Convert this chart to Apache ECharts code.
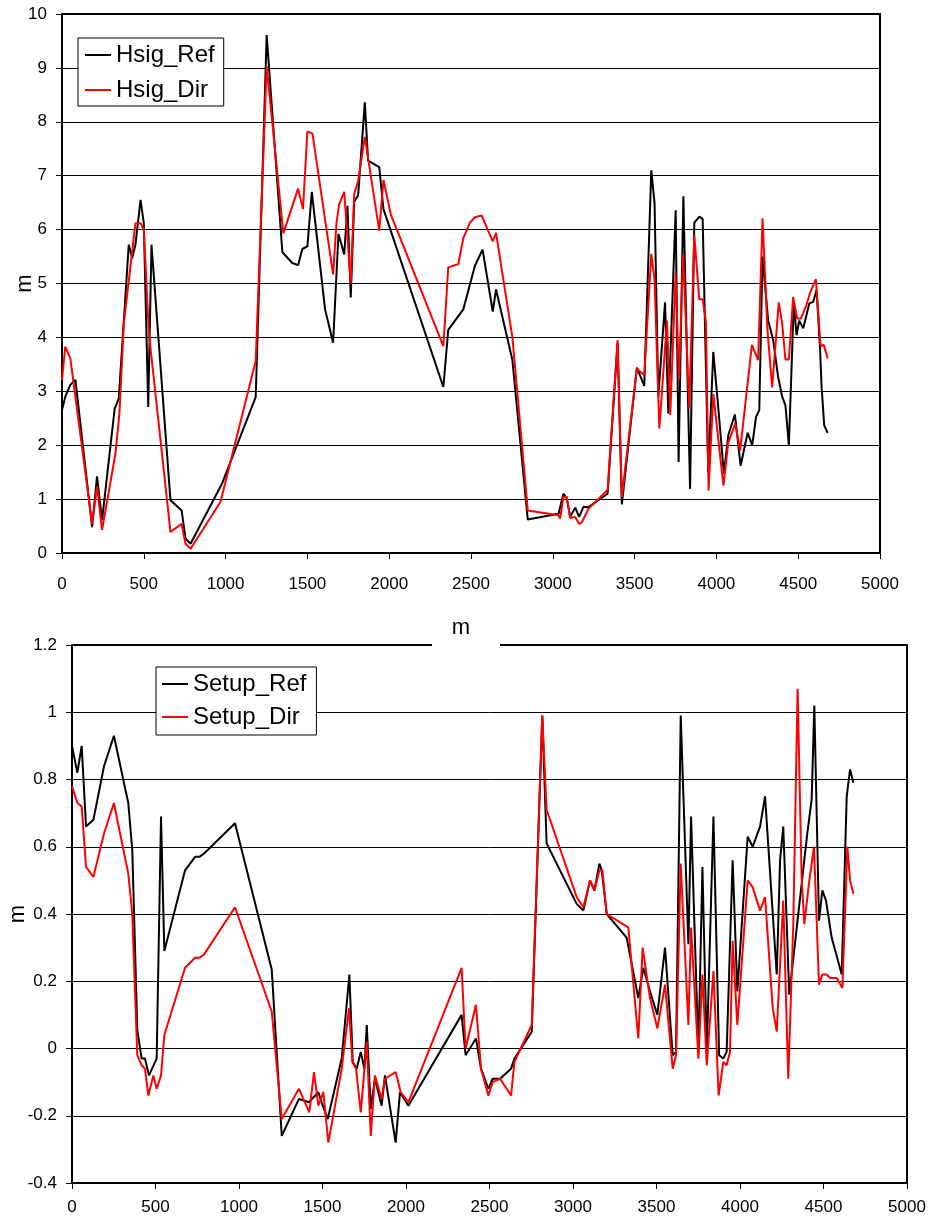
<!DOCTYPE html>
<html>
<head>
<meta charset="utf-8">
<script src="https://cdn.jsdelivr.net/npm/echarts@6/dist/echarts.min.js"></script>
<style>
  html, body { margin: 0; padding: 0; background: #fff; }
  #chart { width: 928px; height: 1224px; }
</style>
</head>
<body>
<div id="chart"></div>
<script>
// x ticks shared by both panels
var xTicks = [0, 500, 1000, 1500, 2000, 2500, 3000, 3500, 4000, 4500, 5000];

// top panel: significant wave height [distance, Hsig]
var hsigRef = [
  [0, 2.65], [20, 2.9], [51, 3.12], [82, 3.21], [184, 0.48], [214, 1.42], [245, 0.61], [322, 2.68],
  [347, 2.87], [408, 5.72], [429, 5.47], [449, 5.72], [480, 6.55], [500, 6.12], [527, 2.71], [547, 5.72],
  [663, 0.98], [731, 0.79], [755, 0.27], [786, 0.17], [980, 1.3], [1184, 2.89], [1251, 9.61], [1347, 5.58],
  [1408, 5.38], [1443, 5.34], [1469, 5.64], [1500, 5.69], [1527, 6.7], [1608, 4.52], [1657, 3.9], [1690, 5.92],
  [1725, 5.54], [1745, 6.44], [1765, 4.74], [1786, 6.52], [1810, 6.63], [1851, 8.36], [1871, 7.28], [1939, 7.16],
  [1965, 6.38], [2331, 3.08], [2361, 4.14], [2453, 4.52], [2524, 5.33], [2571, 5.63], [2633, 4.48], [2653, 4.89],
  [2753, 3.58], [2847, 0.62], [3035, 0.73], [3065, 1.1], [3086, 1.01], [3106, 0.67], [3137, 0.84], [3161, 0.67],
  [3188, 0.86], [3218, 0.85], [3335, 1.1], [3396, 3.9], [3422, 0.9], [3514, 3.44], [3559, 3.1], [3602, 7.1],
  [3622, 6.49], [3645, 2.9], [3686, 4.65], [3706, 2.59], [3751, 6.36], [3769, 1.69], [3798, 6.62], [3839, 1.19],
  [3865, 6.13], [3896, 6.24], [3916, 6.2], [3950, 1.5], [3981, 3.73], [4011, 2.71], [4046, 1.47], [4073, 2.19],
  [4113, 2.57], [4148, 1.62], [4191, 2.23], [4219, 2.0], [4242, 2.52], [4262, 2.65], [4282, 5.5], [4316, 4.32],
  [4347, 3.95], [4377, 3.27], [4402, 2.9], [4422, 2.74], [4443, 2.0], [4473, 4.63], [4490, 4.04], [4506, 4.31],
  [4531, 4.17], [4568, 4.63], [4592, 4.66], [4612, 4.88], [4633, 3.83], [4643, 3.08], [4659, 2.37], [4680, 2.23]
];
var hsigDir = [
  [0, 3.21], [20, 3.83], [51, 3.61], [184, 0.54], [214, 1.23], [245, 0.43], [327, 1.85], [351, 2.59],
  [378, 4.26], [449, 6.12], [480, 6.12], [500, 6.0], [531, 4.08], [663, 0.39], [731, 0.54], [755, 0.17],
  [786, 0.08], [969, 0.95], [1184, 3.56], [1251, 9.03], [1353, 5.93], [1443, 6.76], [1473, 6.38], [1500, 7.82],
  [1531, 7.78], [1657, 5.17], [1678, 6.13], [1694, 6.47], [1725, 6.7], [1765, 5.0], [1786, 6.66], [1810, 6.9],
  [1851, 7.72], [1939, 5.98], [1965, 6.92], [2010, 6.28], [2331, 3.84], [2361, 5.3], [2422, 5.36], [2453, 5.84],
  [2494, 6.13], [2524, 6.23], [2565, 6.26], [2633, 5.78], [2653, 5.94], [2753, 4.0], [2847, 0.79], [3035, 0.7],
  [3045, 0.64], [3065, 1.05], [3086, 1.04], [3106, 0.65], [3137, 0.67], [3161, 0.54], [3178, 0.57], [3218, 0.82],
  [3335, 1.17], [3396, 3.95], [3422, 1.04], [3514, 3.42], [3559, 3.3], [3602, 5.55], [3622, 5.07], [3651, 2.31],
  [3698, 4.31], [3718, 2.56], [3751, 5.2], [3771, 3.21], [3797, 5.56], [3834, 2.68], [3865, 5.9], [3895, 4.71],
  [3916, 4.71], [3936, 4.29], [3952, 1.16], [3981, 2.95], [4043, 1.25], [4073, 2.05], [4115, 2.4], [4145, 1.9],
  [4217, 3.86], [4255, 3.58], [4282, 6.21], [4312, 4.14], [4341, 3.07], [4381, 4.65], [4402, 4.26], [4422, 3.59],
  [4443, 3.59], [4469, 4.75], [4494, 4.35], [4516, 4.35], [4547, 4.57], [4572, 4.82], [4608, 5.08], [4637, 3.84],
  [4657, 3.86], [4680, 3.61]
];

// bottom panel: wave setup [distance, setup]
var setupRef = [
  [0, 0.9], [32, 0.82], [58, 0.9], [84, 0.66], [128, 0.68], [192, 0.84], [251, 0.93], [337, 0.73],
  [361, 0.59], [391, 0.055], [417, -0.03], [437, -0.03], [461, -0.08], [507, -0.03], [533, 0.69], [553, 0.29],
  [677, 0.53], [737, 0.57], [763, 0.57], [791, 0.58], [976, 0.67], [1196, 0.235], [1256, -0.26], [1359, -0.15],
  [1419, -0.16], [1475, -0.13], [1495, -0.16], [1531, -0.21], [1615, -0.03], [1661, 0.22], [1681, -0.04], [1705, -0.06],
  [1729, -0.01], [1751, -0.06], [1765, 0.07], [1789, -0.18], [1814, -0.09], [1854, -0.17], [1874, -0.08], [1938, -0.28],
  [1964, -0.13], [2014, -0.17], [2333, 0.1], [2357, -0.02], [2419, 0.03], [2449, -0.06], [2493, -0.12], [2519, -0.09],
  [2563, -0.09], [2629, -0.06], [2649, -0.03], [2753, 0.05], [2816, 0.99], [2842, 0.61], [3022, 0.43], [3062, 0.41],
  [3102, 0.5], [3128, 0.47], [3158, 0.55], [3172, 0.53], [3202, 0.4], [3321, 0.33], [3391, 0.15], [3421, 0.24],
  [3461, 0.17], [3505, 0.1], [3551, 0.3], [3597, -0.02], [3617, -0.01], [3645, 0.99], [3691, 0.31], [3707, 0.69],
  [3751, -0.01], [3775, 0.54], [3801, -0.01], [3841, 0.69], [3875, -0.02], [3900, -0.03], [3920, -0.01], [3956, 0.56],
  [3984, 0.17], [4046, 0.63], [4076, 0.6], [4120, 0.66], [4150, 0.75], [4220, 0.22], [4240, 0.56], [4259, 0.66],
  [4295, 0.16], [4376, 0.52], [4403, 0.64], [4429, 0.74], [4445, 1.02], [4473, 0.38], [4493, 0.47], [4515, 0.44],
  [4549, 0.33], [4609, 0.22], [4639, 0.75], [4659, 0.83], [4679, 0.79]
];
var setupDir = [
  [0, 0.78], [32, 0.73], [58, 0.72], [84, 0.54], [128, 0.51], [192, 0.64], [251, 0.73], [337, 0.52],
  [361, 0.4], [391, -0.02], [417, -0.05], [437, -0.06], [457, -0.14], [487, -0.08], [507, -0.12], [533, -0.08],
  [553, 0.04], [677, 0.24], [737, 0.27], [763, 0.27], [791, 0.28], [976, 0.42], [1196, 0.11], [1256, -0.21],
  [1359, -0.12], [1421, -0.19], [1449, -0.07], [1475, -0.17], [1505, -0.13], [1535, -0.28], [1615, -0.06], [1659, 0.12],
  [1679, -0.04], [1701, -0.06], [1729, -0.19], [1765, 0.02], [1789, -0.26], [1814, -0.08], [1854, -0.15], [1874, -0.09],
  [1938, -0.07], [1968, -0.13], [2014, -0.16], [2333, 0.24], [2357, 0.0], [2419, 0.13], [2449, -0.06], [2493, -0.14],
  [2519, -0.1], [2563, -0.09], [2629, -0.14], [2649, -0.04], [2753, 0.07], [2816, 0.99], [2842, 0.71], [3022, 0.45],
  [3062, 0.42], [3102, 0.5], [3128, 0.47], [3158, 0.53], [3176, 0.53], [3202, 0.4], [3331, 0.36], [3391, 0.03],
  [3417, 0.3], [3461, 0.15], [3505, 0.06], [3551, 0.19], [3597, -0.06], [3617, -0.02], [3645, 0.55], [3691, 0.07],
  [3707, 0.36], [3751, -0.03], [3775, 0.22], [3801, -0.05], [3841, 0.23], [3872, -0.14], [3900, -0.04], [3920, -0.05],
  [3940, -0.01], [3956, 0.32], [3984, 0.07], [4046, 0.5], [4076, 0.48], [4120, 0.41], [4150, 0.45], [4196, 0.12],
  [4220, 0.05], [4259, 0.44], [4289, -0.09], [4319, 0.37], [4345, 1.07], [4369, 0.51], [4385, 0.37], [4415, 0.5],
  [4443, 0.6], [4473, 0.19], [4493, 0.22], [4519, 0.22], [4539, 0.21], [4579, 0.21], [4613, 0.18], [4643, 0.6],
  [4659, 0.5], [4679, 0.46]
];

var font = "'Liberation Sans', Arial, sans-serif";
var myChart = echarts.init(document.getElementById('chart'));
var option;

function valueX(gridIndex, margin, extra) {
  var ax = {
    type: 'value', gridIndex: gridIndex,
    min: xTicks[0], max: xTicks[xTicks.length - 1], interval: 500,
    axisLine: { show: true, onZero: false, lineStyle: { color: '#000', width: 2 } },
    axisTick: { show: true, length: 6, lineStyle: { color: '#000' } },
    axisLabel: {
      color: '#000', fontSize: 17, fontFamily: font, margin: margin,
      formatter: function (v) { return String(v); }
    },
    splitLine: { show: false }
  };
  return Object.assign(ax, extra || {});
}

option = {
  backgroundColor: '#fff',
  animation: false,
  grid: [
    { left: 62, top: 14, width: 818, height: 539, show: true, borderColor: '#000', borderWidth: 2, outerBoundsMode: 'none', containLabel: false },
    { left: 72, top: 645, width: 835, height: 538, show: true, borderColor: '#000', borderWidth: 2, outerBoundsMode: 'none', containLabel: false }
  ],
  legend: [
    {
      left: 78, top: 38, orient: 'vertical', itemGap: 11, itemWidth: 26, itemHeight: 2,
      icon: 'rect', padding: [5, 9, 4, 7], borderColor: '#000', borderWidth: 1, backgroundColor: '#fff',
      textStyle: { fontSize: 24, fontFamily: font, color: '#000' },
      data: ['Hsig_Ref', 'Hsig_Dir']
    },
    {
      left: 156, top: 667, orient: 'vertical', itemGap: 9, itemWidth: 26, itemHeight: 2,
      icon: 'rect', padding: [5, 10, 6, 6], borderColor: '#000', borderWidth: 1, backgroundColor: '#fff',
      textStyle: { fontSize: 24, fontFamily: font, color: '#000' },
      data: ['Setup_Ref', 'Setup_Dir']
    }
  ],
  // white gap in the lower panel's top border behind the shared "m" label
  graphic: [
    { type: 'rect', z: 5, shape: { x: 432, y: 616, width: 68, height: 32 }, style: { fill: '#fff' } }
  ],
  xAxis: [
    valueX(0, 23, {
      z: 10,
      name: 'm', nameLocation: 'middle', nameGap: 64, nameMoveOverlap: false,
      nameTextStyle: { fontSize: 22, fontFamily: font, color: '#000', padding: [0, 20, 0, 0] }
    }),
    valueX(1, 16)
  ],
  yAxis: [
    {
      type: 'value', gridIndex: 0, min: 0, max: 10, interval: 1,
      name: 'm', nameLocation: 'middle', nameGap: 26, nameMoveOverlap: false,
      nameTextStyle: { fontSize: 22, fontFamily: font, color: '#000' },
      axisLine: { show: true, lineStyle: { color: '#000', width: 2 } },
      axisTick: { show: true, length: 6, lineStyle: { color: '#000' } },
      axisLabel: { color: '#000', fontSize: 17, fontFamily: font, margin: 15 },
      splitLine: { show: true, lineStyle: { color: '#000', width: 1 } }
    },
    {
      type: 'value', gridIndex: 1, min: -0.4, max: 1.2, interval: 0.2,
      name: 'm', nameLocation: 'middle', nameGap: 43, nameMoveOverlap: false,
      nameTextStyle: { fontSize: 22, fontFamily: font, color: '#000' },
      axisLine: { show: true, onZero: false, lineStyle: { color: '#000', width: 2 } },
      axisTick: { show: true, length: 6, lineStyle: { color: '#000' } },
      axisLabel: {
        color: '#000', fontSize: 17, fontFamily: font, margin: 15,
        formatter: function (v) { return String(Math.round(v * 10) / 10); }
      },
      splitLine: { show: true, lineStyle: { color: '#000', width: 1 } }
    }
  ],
  series: [
    {
      name: 'Hsig_Ref', type: 'line', xAxisIndex: 0, yAxisIndex: 0,
      showSymbol: false, color: '#000', lineStyle: { width: 2, color: '#000' }, data: hsigRef
    },
    {
      name: 'Hsig_Dir', type: 'line', xAxisIndex: 0, yAxisIndex: 0,
      showSymbol: false, color: '#ff0000', lineStyle: { width: 2, color: '#ff0000' }, data: hsigDir
    },
    {
      name: 'Setup_Ref', type: 'line', xAxisIndex: 1, yAxisIndex: 1,
      showSymbol: false, color: '#000', lineStyle: { width: 2, color: '#000' }, data: setupRef
    },
    {
      name: 'Setup_Dir', type: 'line', xAxisIndex: 1, yAxisIndex: 1,
      showSymbol: false, color: '#ff0000', lineStyle: { width: 2, color: '#ff0000' }, data: setupDir
    }
  ]
};

option && myChart.setOption(option);
</script>
</body>
</html>
